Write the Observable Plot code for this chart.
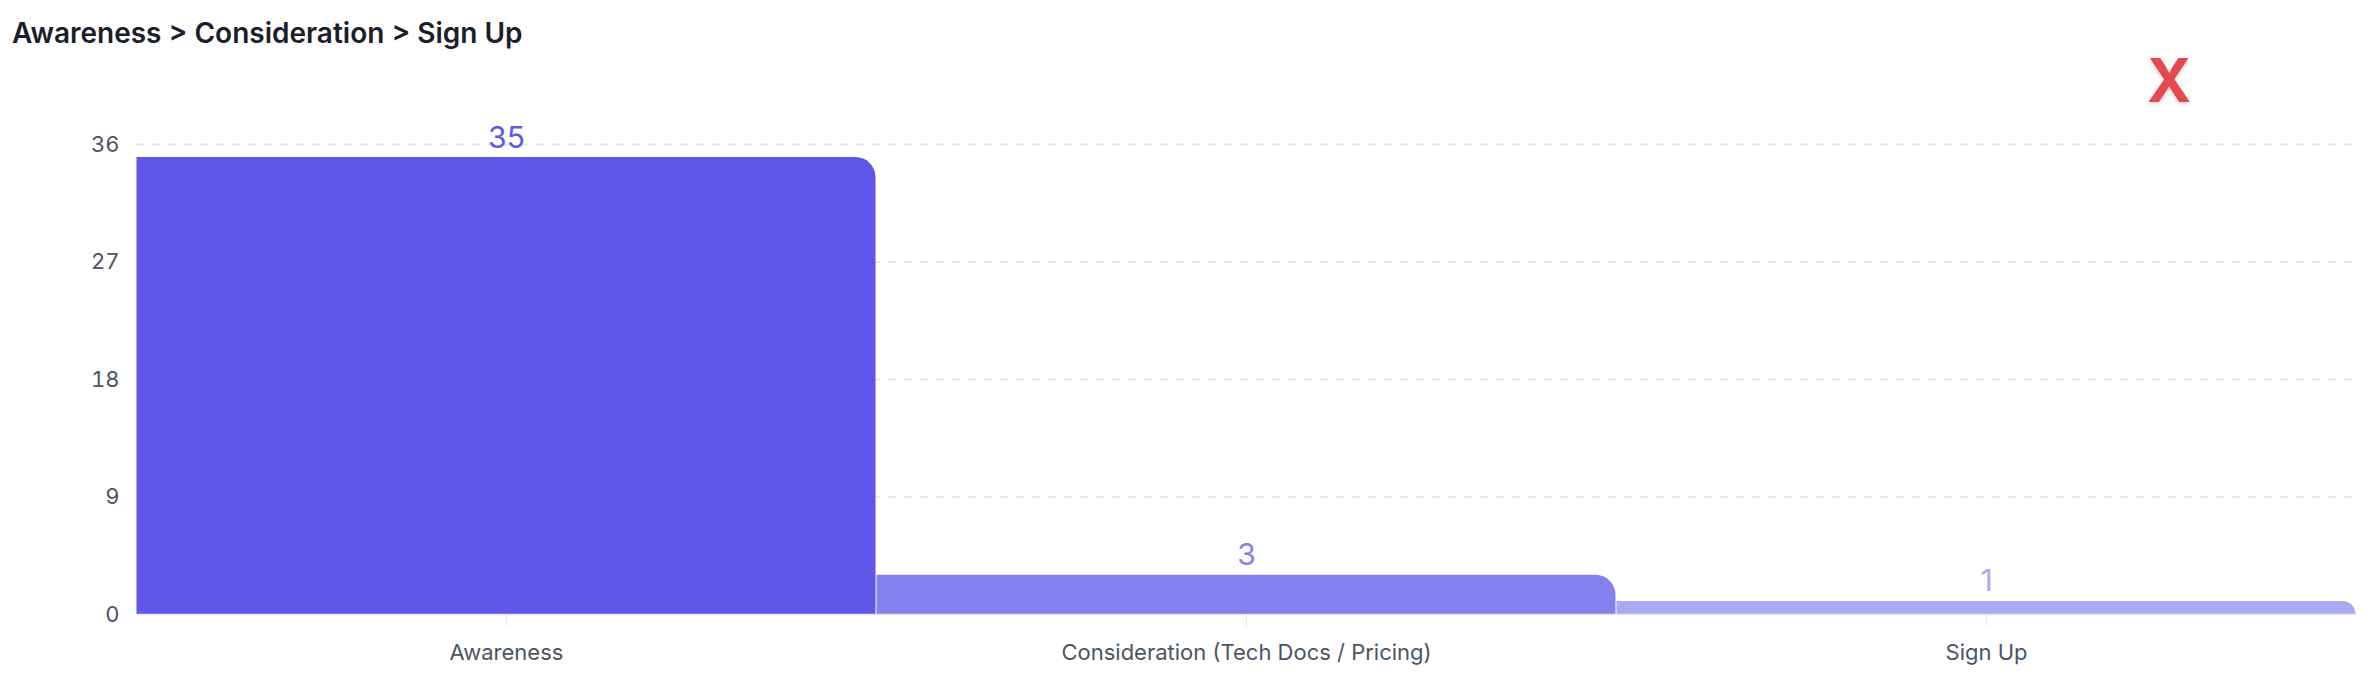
<!DOCTYPE html>
<html>
<head>
<meta charset="utf-8">
<script src="https://cdn.jsdelivr.net/npm/d3@7"></script>
<script src="https://cdn.jsdelivr.net/npm/@observablehq/plot@0.6"></script>
<style>
  html, body { margin: 0; padding: 0; background: #ffffff; }
  body { font-family: Inter, "Noto Sans", sans-serif; position: relative; width: 2372px; height: 686px; overflow: hidden; }
  #title { box-sizing: border-box; height: 56px; padding: 16px 0 0 12px; font-size: 28px; font-weight: 600; color: #1b1e2b; line-height: normal; }
  #mark { position: absolute; left: 2147px; top: 44px; font-size: 60px; font-weight: 700; color: #e5484d; line-height: normal; text-shadow: 0 2px 4px rgba(0,0,0,0.18); }
</style>
</head>
<body>
<div id="title">Awareness &gt; Consideration &gt; Sign Up</div>
<div id="chart"></div>
<div id="mark">X</div>
<script>
const stages = ["Awareness", "Consideration (Tech Docs / Pricing)", "Sign Up"];
const counts = [35, 3, 1];
const barColors = ["#5f57ea", "#8480ee", "#a9a8f3"];
const yTicks = [0, 9, 18, 27, 36];

const data = stages.map((s, i) => ({stage: s, count: counts[i], color: barColors[i]}));

const chart = Plot.plot({
  width: 2372,
  height: 630,
  marginTop: 88,
  marginBottom: 72,
  marginLeft: 136,
  marginRight: 16,
  style: {fontFamily: "Inter, 'Noto Sans', sans-serif", fontSize: "22px", color: "#4b5563", background: "transparent", fontVariant: "normal"},
  x: {domain: stages, padding: 0, label: null},
  y: {domain: [0, 36], ticks: yTicks, label: null},
  marks: [
    Plot.ruleY(yTicks.filter(d => d > 0), {stroke: "#e5e7eb", strokeWidth: 2, strokeDasharray: "8,8"}),
    Plot.barY(data, {x: "stage", y: "count", fill: "color", insetLeft: 0.5, insetRight: 0.5, rx2y1: 20}),
    Plot.ruleY([0], {stroke: "#e5e7eb", strokeWidth: 1.5}),
    Plot.axisX({tickSize: 12, tickPadding: 18, stroke: "#e5e7eb", fill: "#4b5563", fontSize: 22}),
    Plot.axisY({ticks: yTicks, tickSize: 0, tickPadding: 17, fill: "#4b5563", fontSize: 22}),
    Plot.text(data, {x: "stage", y: "count", text: d => String(d.count), fill: "color", lineAnchor: "bottom", dy: -10, fontSize: 30, fontWeight: 400})
  ]
});
document.getElementById("chart").appendChild(chart);
</script>
</body>
</html>
